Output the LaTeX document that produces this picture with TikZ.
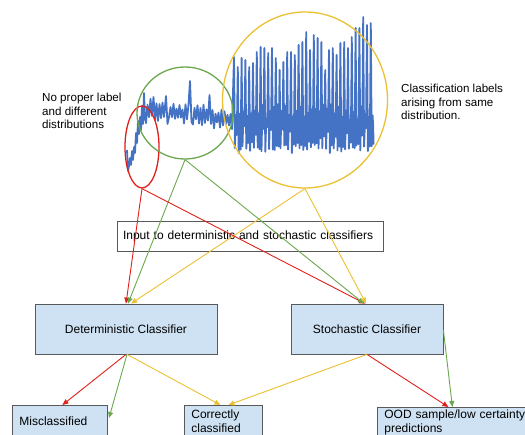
\documentclass[tikz,border=0pt]{standalone}
\usepackage{fontspec}
\setmainfont{Liberation Sans}
\usetikzlibrary{arrows.meta,shapes.geometric,calc}
\definecolor{sigblue}{HTML}{4472C4}
\definecolor{ringred}{HTML}{E0201B}
\definecolor{ringgreen}{HTML}{6AA84F}
\definecolor{ringyellow}{HTML}{EBC033}
\definecolor{boxfill}{HTML}{CFE2F3}
\definecolor{boxline}{HTML}{595959}
\tikzset{
  signal/.style={draw=sigblue, line width=1.8pt, line join=round},
  ring/.style={ellipse, draw, line width=1.3pt, inner sep=0pt},
  flow/.style={line width=0.9pt, -{Triangle[length=6pt,width=5pt]}},
  clsbox/.style={draw=boxline, fill=boxfill, line width=0.8pt, inner sep=0pt},
  leafbox/.style={draw=boxline, fill=boxfill, line width=0.8pt, anchor=north west,
    align=left, inner xsep=7pt, inner ysep=2pt},
  note/.style={align=left, anchor=north west, inner sep=0pt,
    font=\fontsize{11.6}{13.6}\selectfont}
}
\begin{document}
\begin{tikzpicture}[x=1pt, y=-1pt, font=\fontsize{12}{14}\selectfont]
\useasboundingbox (0,0) rectangle (525,434);
\clip (0,0) rectangle (525,434);

% time series: rising onset, noisy plateau, then large alternating swings
\pgfmathsetseed{2024}
\draw[signal] (127,150) -- (128,171) -- (129,166) -- (130,158) -- (131,165)
  -- (132,151) -- (133,160) -- (134,147) -- (135,153) -- (136,133) -- (137,143)
  -- (138,121) -- (139,134) -- (140,117) -- (141,130) -- (142,106) -- (143,124)
  -- (144,93) -- (145,118)
  \foreach \x in {146,147.5,...,165}{ -- (\x,{110+(2*mod(round(\x/1.5),2)-1)*(5+10*rnd)}) }
  -- (166,96) -- (167.5,124)
  \foreach \x in {169,170.5,...,188.5}{ -- (\x,{110+0.08*(\x-146)+(2*mod(round(\x/1.5),2)-1)*(3+8*rnd)}) }
  -- (190,81) -- (191.5,122)
  \foreach \x in {193,194.5,...,208}{ -- (\x,{111+0.08*(\x-146)+(2*mod(round(\x/1.5),2)-1)*(3+8*rnd)}) }
  -- (209.5,95) -- (211,124)
  \foreach \x in {212.5,214,...,232}{ -- (\x,{112+0.08*(\x-146)+(2*mod(round(\x/1.5),2)-1)*(3+8*rnd)}) }
  \foreach \k/\pk [evaluate=\k as \xa using 234+3.8*\k] in {0/57,1/67,2/58,3/60,
      4/67,5/63,6/52,7/47,8/48,9/53,10/48,11/58,12/70,13/62,14/52,15/52,16/55,
      17/45,18/42,19/32,20/50,21/35,22/38,23/42,24/70,25/50,26/48,27/55,28/43,
      29/42,30/48,31/37,32/28,33/28,34/17,35/25,36/23}
  { -- (\xa,\pk) -- ({\xa+0.9},{145+9*rnd}) -- ({\xa+1.9},{104+16*rnd})
    -- ({\xa+2.8},{126+24*rnd}) }
  -- (373,120);

% highlighted regions
\node[ring, draw=ringred, minimum width=34pt, minimum height=82pt] (rdist) at (142,147) {};
\node[ring, draw=ringgreen, minimum width=96pt, minimum height=92pt] (gdist) at (185,113) {};
\node[ring, draw=ringyellow, minimum width=165pt, minimum height=176pt] (ydist) at (305,100) {};

% side notes
\node[note] (nolabel) at (42,93) {No proper label\\and different\\distributions};
\node[note] (samedist) at (401,84) {Classification labels\\arising from same\\distribution.};

% input box
\node[draw=boxline, line width=0.8pt, minimum width=266pt, minimum height=30pt,
  text width=254pt, align=left, inner xsep=6pt] (input) at (250,236)
  {Input to deterministic and stochastic classifiers};

% classifiers
\node[clsbox, minimum width=182pt, minimum height=50pt] (det) at (126,329) {Deterministic Classifier};
\node[clsbox, minimum width=152pt, minimum height=50pt] (sto) at (367,329) {Stochastic Classifier};

% outcomes
\node[leafbox, minimum width=95pt, minimum height=32pt, text width=81pt] (mis) at (12,405) {Misclassified};
\node[leafbox, minimum width=78pt, minimum height=32pt, text width=64pt] (cor) at (184,405) {Correctly\\classified};
\node[leafbox, minimum width=160pt, minimum height=28pt, text width=146pt] (ood) at (377,407) {OOD sample/low certainty\\predictions};

% regions to classifiers
\draw[flow, ringred] (rdist.south) -- (det.north);
\draw[flow, ringgreen] (gdist.south) -- ($(det.north)+(2,0)$);
\draw[flow, ringyellow] (ydist.south) -- ($(det.north)+(5,0)$);
\draw[flow, ringred] (rdist.south) -- ($(sto.north)+(-2,0)$);
\draw[flow, ringgreen] (gdist.south) -- ($(sto.north)+(-3,0)$);
\draw[flow, ringyellow] (ydist.south) -- ($(sto.north)+(-1,0)$);

% classifiers to outcomes
\coordinate (misside) at (109,418);
\draw[flow, ringred] (det.south) -- ($(mis.north)+(2.5,0)$);
\draw[flow, ringgreen] ($(det.south)+(1,0)$) -- (misside);
\draw[flow, ringyellow] ($(det.south)+(1,0)$) -- ($(cor.north)+(-3,0)$);
\draw[flow, ringyellow] (sto.south) -- ($(cor.north)+(5,0)$);
\draw[flow, ringred] (sto.south) -- ($(ood.north)+(-9,0)$);
\draw[flow, ringgreen] ($(sto.north east)!0.52!(sto.south east)$) -- ($(ood.north)+(-5,0)$);
\end{tikzpicture}
\end{document}
